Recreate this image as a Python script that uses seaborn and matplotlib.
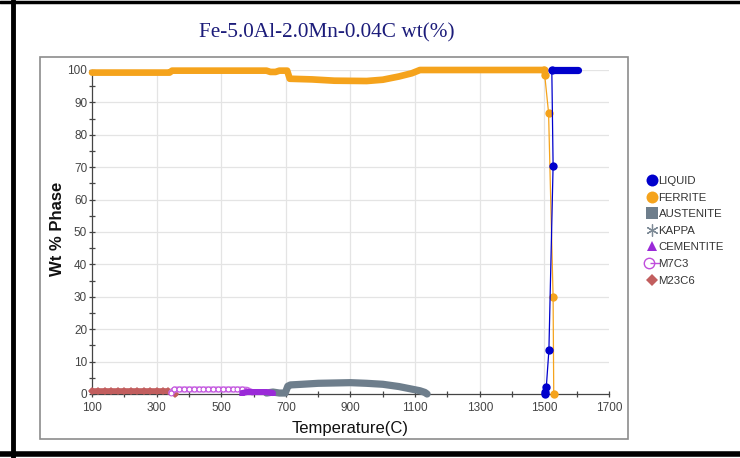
import matplotlib
matplotlib.use("Agg")
import matplotlib.pyplot as plt
import seaborn as sns
import numpy as np
import pandas as pd
from matplotlib.lines import Line2D
from matplotlib.patches import Rectangle
from matplotlib.legend_handler import HandlerTuple
from matplotlib.ticker import MultipleLocator

# ---- phase fraction data (wt %) versus temperature (C) ----
ferrite_T = [100, 340, 348, 640, 652, 668, 680, 704, 712, 780, 850, 950, 1000, 1050, 1090, 1115, 1500]
ferrite_wt = [99.2, 99.2, 99.8, 99.8, 99.4, 99.4, 99.8, 99.8, 97.3, 97.1, 96.7, 96.6, 97.0, 98.0, 99.0, 100.0, 100.0]

ferrite_melt_T = [1500, 1501, 1513, 1527, 1529]
ferrite_melt_wt = [100.0, 98.5, 86.8, 29.9, 0.0]

liquid_melt_T = [1502, 1503, 1506, 1514, 1527, 1523]
liquid_melt_wt = [0.0, 0.7, 2.2, 13.5, 70.5, 100.0]

liquid_T = [1523, 1603]
liquid_wt = [100.0, 100.0]

austenite_T = [640, 660, 680, 698, 706, 714, 750, 800, 850, 900, 950, 1000, 1050, 1090, 1115, 1130, 1137]
austenite_wt = [0.3, 0.6, 0.3, 0.3, 2.4, 2.8, 3.0, 3.3, 3.4, 3.5, 3.3, 3.0, 2.3, 1.5, 1.0, 0.5, 0.0]

cementite_T = [565, 580, 600, 620, 640, 660]
cementite_wt = [0.3, 0.6, 0.6, 0.6, 0.6, 0.3]

m7c3_T = [345, 355, 370, 385, 400, 415, 430, 445, 460, 475, 490, 505, 520, 535, 550, 565, 580, 595]
m7c3_wt = [0.4, 1.4, 1.4, 1.4, 1.4, 1.4, 1.4, 1.4, 1.4, 1.4, 1.4, 1.4, 1.4, 1.4, 1.4, 1.4, 1.3, 0.6]

m23c6_T = [100, 120, 140, 160, 180, 200, 220, 240, 260, 280, 300, 320, 335, 348, 358]
m23c6_wt = [0.9, 0.9, 0.9, 0.9, 0.9, 0.9, 0.9, 0.9, 0.9, 0.9, 0.9, 0.9, 0.9, 0.5, 0.0]

phases = ["LIQUID", "FERRITE", "AUSTENITE", "KAPPA", "CEMENTITE", "M7C3", "M23C6"]

x_ticks = [100, 300, 500, 700, 900, 1100, 1300, 1500, 1700]
y_ticks = [0, 10, 20, 30, 40, 50, 60, 70, 80, 90, 100]

C_LIQ = "#0000cc"
C_FER = "#f5a31c"
C_AUS = "#6e7e8c"
C_KAP = "#7d8a96"
C_CEM = "#9a2ad8"
C_M7 = "#c04ddc"
C_M7_BAND = "#cf78e8"
C_M23 = "#c25e5e"

sns.set_theme(style="white")
plt.rcParams["font.family"] = ["Liberation Sans", "DejaVu Sans"]

W, H = 740, 458
fig = plt.figure(figsize=(W / 100, H / 100), dpi=100)
fig.patch.set_facecolor("white")


def fx(px):
    return px / W


def fy(py):
    return 1 - py / H


# outer frame and inner panel
fig.add_artist(Line2D([fx(13), fx(13)], [fy(0), fy(458)], color="black", lw=3.5, transform=fig.transFigure))
fig.add_artist(Line2D([fx(0), fx(740)], [fy(1.5), fy(1.5)], color="black", lw=2.5, transform=fig.transFigure))
fig.add_artist(Line2D([fx(0), fx(740)], [fy(454), fy(454)], color="black", lw=4, transform=fig.transFigure))
fig.add_artist(Rectangle((fx(40), fy(439)), fx(628) - fx(40), fy(57) - fy(439),
                         fill=False, edgecolor="#8c8c8c", lw=1.2, transform=fig.transFigure))

x0, x1 = 92, 609
y0, y1 = 70, 394
ax = fig.add_axes([fx(x0), fy(y1), (x1 - x0) / W, (y1 - y0) / H])
ax.set_facecolor("none")

ax.set_xlim(100, 1700)
ax.set_ylim(0, 100)

# grid
for v in y_ticks[1:]:
    ax.axhline(v, color="#e4e4e4", lw=0.9, zorder=0)
for v in x_ticks[1:-1]:
    ax.axvline(v, color="#e4e4e4", lw=0.9, zorder=0)


def band(T, w, color, lw, z, **kw):
    sns.lineplot(x=T, y=w, ax=ax, color=color, lw=lw, sort=False, estimator=None,
                 solid_capstyle="round", zorder=z, clip_on=False, legend=False, **kw)


# thick phase bands
band(ferrite_T, ferrite_wt, C_FER, 4.8, 3)
band(austenite_T, austenite_wt, C_AUS, 5.2, 3)
band(m23c6_T, m23c6_wt, C_M23, 4.2, 4, marker="D", markersize=4.5, markeredgewidth=0)
band(m7c3_T, m7c3_wt, C_M7_BAND, 4.4, 4, marker="o", markersize=3.5, markerfacecolor="white",
     markeredgecolor=C_M7, markeredgewidth=0.7)
band(cementite_T, cementite_wt, C_CEM, 4.4, 4, marker="^", markersize=4.5, markeredgewidth=0)
band(liquid_T, liquid_wt, C_LIQ, 5.2, 5)

# melting range
sns.lineplot(x=ferrite_melt_T, y=ferrite_melt_wt, ax=ax, color=C_FER, lw=0.9, sort=False,
             estimator=None, marker="o", markersize=6, markeredgewidth=0, zorder=5,
             clip_on=False, legend=False)
sns.lineplot(x=liquid_melt_T, y=liquid_melt_wt, ax=ax, color=C_LIQ, lw=0.9, sort=False,
             estimator=None, marker="o", markersize=6, markeredgewidth=0, zorder=6,
             clip_on=False, legend=False)

# axes styling
for s in ["top", "right"]:
    ax.spines[s].set_visible(False)
for s in ["left", "bottom"]:
    ax.spines[s].set_color("#444444")
    ax.spines[s].set_linewidth(0.9)

ax.set_xticks(x_ticks)
ax.set_yticks(y_ticks)
ax.xaxis.set_minor_locator(MultipleLocator(100))
ax.yaxis.set_minor_locator(MultipleLocator(5))
ax.tick_params(axis="both", which="major", direction="inout", length=5, width=0.9,
               color="#444444", labelsize=8.5, labelcolor="#444444",
               bottom=True, left=True)
ax.tick_params(axis="y", which="major", pad=1)
ax.tick_params(axis="x", which="major", pad=3)
ax.tick_params(axis="both", which="minor", direction="inout", length=4, width=0.9,
               color="#444444", bottom=True, left=True)

ax.set_xlabel("Temperature(C)", fontsize=12, color="#111111", labelpad=5)
ax.set_ylabel("Wt % Phase", fontsize=12, fontweight="bold", color="#111111")
ax.yaxis.set_label_coords((65 - x0) / (x1 - x0), (y1 - 229) / (y1 - y0))

fig.text(fx(327), fy(33), "Fe-5.0Al-2.0Mn-0.04C wt(%)", ha="center", va="center",
         fontsize=15.3, color="#1c1c7a", family=["Liberation Serif", "DejaVu Serif"])

# legend
h_liq = Line2D([], [], ls="none", marker="o", ms=8.6, color=C_LIQ, mew=0)
h_fer = Line2D([], [], ls="none", marker="o", ms=8.6, color=C_FER, mew=0)
h_aus = Line2D([], [], ls="none", marker="s", ms=8.6, color=C_AUS, mew=0)
h_kap = Line2D([], [], ls="none", marker=(6, 2, 0), ms=8.6, color=C_KAP, mew=0.9)
h_cem = Line2D([], [], ls="none", marker="^", ms=7.5, color=C_CEM, mew=0)
h_m7a = Line2D([], [], ls="none", marker="o", ms=7.5, markerfacecolor="white",
               markeredgecolor=C_M7, mew=1.0)
h_m7b = Line2D([], [], ls="none", marker="_", ms=7.5, color=C_M7, mew=1.0)
h_m23 = Line2D([], [], ls="none", marker="D", ms=6.5, color=C_M23, mew=0)

handles = [h_liq, h_fer, h_aus, h_kap, h_cem, (h_m7a, h_m7b), h_m23]
fig.legend(handles, phases, loc="upper left", bbox_to_anchor=(fx(646), fy(176)),
           frameon=False, fontsize=8.2, handlelength=1.0, handletextpad=0.1,
           labelspacing=0.58, borderaxespad=0, borderpad=0, labelcolor="#333333",
           handler_map={tuple: HandlerTuple(ndivide=None, pad=0)})

fig.savefig("out.png", dpi=100)
